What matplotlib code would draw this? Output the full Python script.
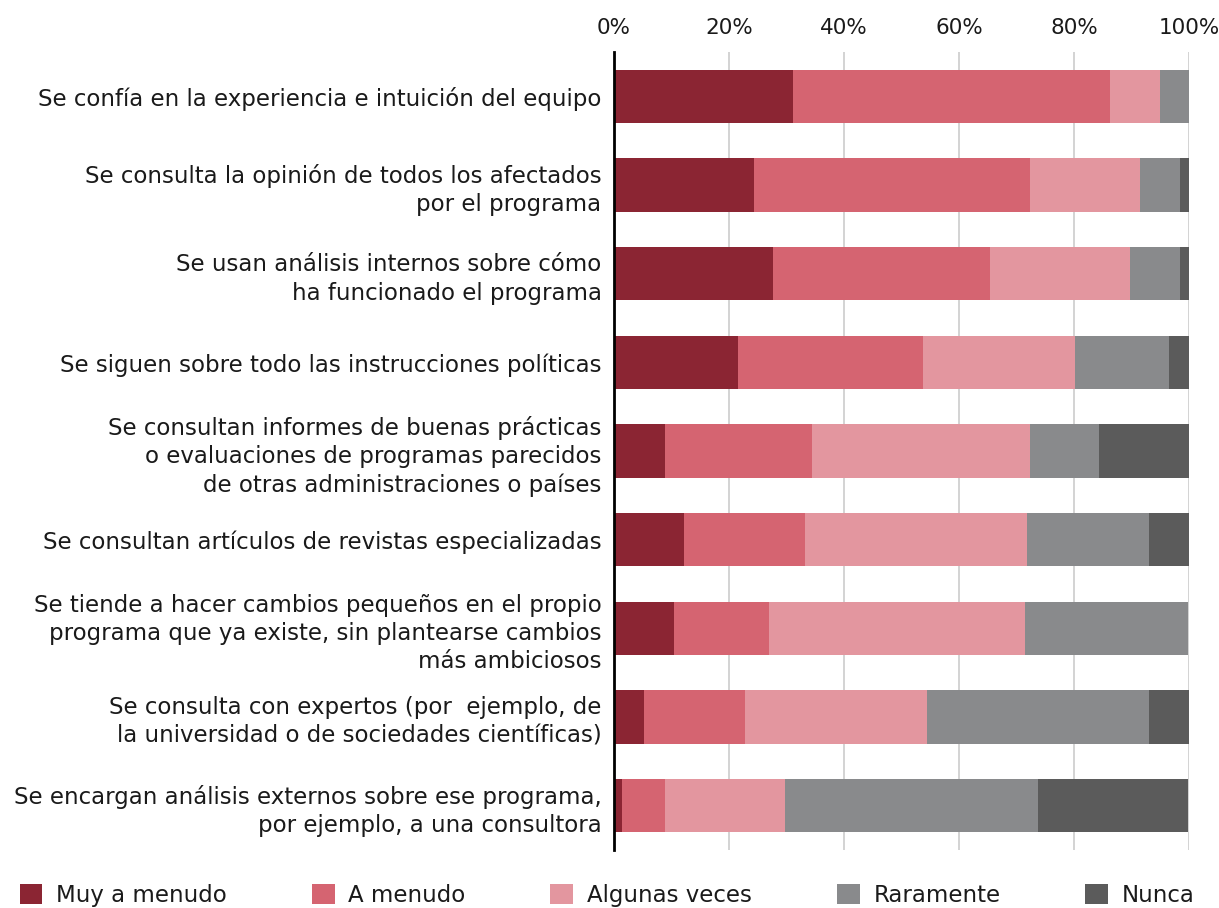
import numpy as np
import matplotlib.pyplot as plt
from matplotlib.patches import Patch

plt.rcParams['font.family'] = ['DejaVu Sans']

labels = [
    "Se confía en la experiencia e intuición del equipo",
    "Se consulta la opinión de todos los afectados\npor el programa",
    "Se usan análisis internos sobre cómo\nha funcionado el programa",
    "Se siguen sobre todo las instrucciones políticas",
    "Se consultan informes de buenas prácticas\no evaluaciones de programas parecidos\nde otras administraciones o países",
    "Se consultan artículos de revistas especializadas",
    "Se tiende a hacer cambios pequeños en el propio\nprograma que ya existe, sin plantearse cambios\nmás ambiciosos",
    "Se consulta con expertos (por  ejemplo, de\nla universidad o de sociedades científicas)",
    "Se encargan análisis externos sobre ese programa,\npor ejemplo, a una consultora",
]

muy_a_menudo = [31.1, 24.3, 27.6, 21.5, 8.8, 12.1, 10.5, 5.3, 1.4]
a_menudo = [55.2, 48.0, 37.8, 32.2, 25.6, 21.2, 16.4, 17.4, 7.4]
algunas_veces = [8.7, 19.2, 24.4, 26.4, 37.9, 38.5, 44.6, 31.7, 21.0]
raramente = [5.0, 6.9, 8.6, 16.4, 12.0, 21.3, 28.3, 38.7, 43.9]
nunca = [0.0, 1.6, 1.6, 3.5, 15.7, 6.9, 0.0, 6.9, 26.1]

series = ["Muy a menudo", "A menudo", "Algunas veces", "Raramente", "Nunca"]
colors = ["#8b2533", "#d56471", "#e3969f", "#898a8c", "#5b5b5b"]

fig = plt.figure(figsize=(12.19, 9.08), dpi=100)
ax = fig.add_axes([0.5037, 0.0639, 0.4717, 0.8788])

y = np.arange(len(labels))
left = np.zeros(len(labels))
for vals, c, name in zip([muy_a_menudo, a_menudo, algunas_veces, raramente, nunca], colors, series):
    ax.barh(y, vals, left=left, height=0.6, color=c, label=name, zorder=3)
    left += np.array(vals)

ax.set_xlim(0, 100)
ax.set_ylim(8.5, -0.5)
ax.set_xticks([0, 20, 40, 60, 80, 100])
ax.set_xticklabels(["0%", "20%", "40%", "60%", "80%", "100%"])
ax.xaxis.tick_top()
ax.tick_params(axis='x', length=0, pad=10, labelsize=15.5, colors='#1a1a1a')
ax.set_yticks(y)
ax.set_yticklabels(labels, fontsize=16.5, linespacing=1.3)
ax.tick_params(axis='y', length=0, pad=9, colors='#1a1a1a')
ax.grid(axis='x', color='#d0d0d0', linewidth=1.3, zorder=0)
for s in ['top', 'right', 'bottom']:
    ax.spines[s].set_visible(False)
ax.spines['left'].set_linewidth(2)
ax.spines['left'].set_color('black')
ax.spines['left'].set_zorder(5)

handles = [Patch(facecolor=c, label=n) for c, n in zip(colors, series)]
fig.legend(handles=handles, loc='center left', bbox_to_anchor=(0.016, 0.014),
           ncol=5, frameon=False, fontsize=16.5, handlelength=1.0, handleheight=1.0,
           handletextpad=0.6, columnspacing=3.7, borderpad=0, borderaxespad=0,
           labelcolor='#1a1a1a')

fig.savefig("out.png", dpi=100)
